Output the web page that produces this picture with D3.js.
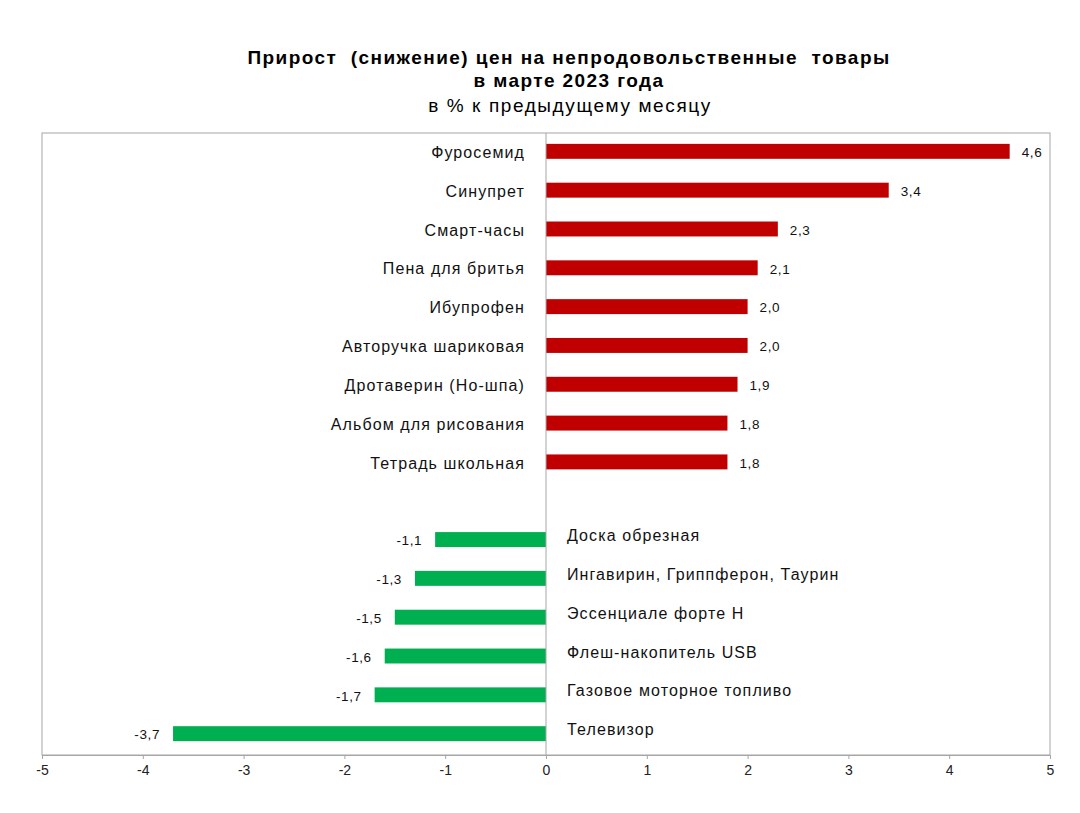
<!DOCTYPE html>
<html>
<head>
<meta charset="utf-8">
<script src="https://cdn.jsdelivr.net/npm/d3@7"></script>
<style>
  body { margin: 0; background: #fff; }
  svg { font-family: "Liberation Sans", Arial, sans-serif; }
  text { white-space: pre; }
</style>
</head>
<body>
<svg id="chart" width="1080" height="813"></svg>
<script>
// categories top to bottom; the empty string is the blank gap row
const categories = [
  'Фуросемид', 'Синупрет', 'Смарт-часы', 'Пена для бритья', 'Ибупрофен',
  'Авторучка шариковая', 'Дротаверин (Но-шпа)', 'Альбом для рисования', 'Тетрадь школьная',
  '',
  'Доска обрезная', 'Ингавирин, Гриппферон, Таурин', 'Эссенциале форте Н',
  'Флеш-накопитель USB', 'Газовое моторное топливо', 'Телевизор'
];
const values = [4.6, 3.4, 2.3, 2.1, 2.0, 2.0, 1.9, 1.8, 1.8, null,
  -1.1, -1.3, -1.5, -1.6, -1.7, -3.7];
const ticks = [-5, -4, -3, -2, -1, 0, 1, 2, 3, 4, 5];

const svg = d3.select('#chart');
const plotL = 42, plotR = 1050, plotT = 133, plotB = 755;

const x = d3.scaleLinear().domain([-5, 5]).range([plotL, plotR]);
const y = d3.scaleBand().domain(d3.range(categories.length)).range([plotT, plotB - 3])
  .paddingInner(0.615).paddingOuter(0.28);

// comma decimal, plain hyphen for minus
const fmt = v => d3.format('.1f')(v).replace('.', ',').replace('\u2212', '-');

// title
const title = svg.append('g').attr('text-anchor', 'middle').attr('fill', '#000');
title.append('text').attr('x', 569).attr('y', 64).attr('font-size', 19).attr('font-weight', 'bold')
  .attr('letter-spacing', 1.45)
  .text('Прирост  (снижение) цен на непродовольственные  товары');
title.append('text').attr('x', 569).attr('y', 87).attr('font-size', 19).attr('font-weight', 'bold')
  .attr('letter-spacing', 1.4)
  .text('в марте 2023 года');
title.append('text').attr('x', 570).attr('y', 112).attr('font-size', 19)
  .attr('letter-spacing', 1.6)
  .text('в % к предыдущему месяцу');

// plot border
svg.append('rect').attr('x', plotL).attr('y', plotT).attr('width', plotR - plotL).attr('height', plotB - plotT)
  .attr('fill', 'none').attr('stroke', '#a6a6a6').attr('stroke-width', 1);

const rows = categories.map((c, i) => ({ c, v: values[i], i })).filter(d => d.v !== null);

svg.append('g').selectAll('rect').data(rows).join('rect')
  .attr('x', d => x(Math.min(0, d.v)))
  .attr('y', d => y(d.i))
  .attr('width', d => Math.abs(x(d.v) - x(0)))
  .attr('height', y.bandwidth())
  .attr('fill', d => d.v > 0 ? '#c00000' : '#00b050');

// zero line
svg.append('line').attr('x1', x(0)).attr('x2', x(0)).attr('y1', plotT).attr('y2', plotB)
  .attr('stroke', '#a6a6a6').attr('stroke-width', 1);

// x axis
const axis = svg.append('g').attr('transform', `translate(0,${plotB})`)
  .call(d3.axisBottom(x).tickValues(ticks).tickSize(4).tickPadding(6).tickFormat(d => String(d)));
axis.select('.domain').attr('stroke', '#a6a6a6');
axis.selectAll('.tick line').attr('stroke', '#a6a6a6');
axis.selectAll('.tick text').attr('font-size', 14).attr('fill', '#222').attr('font-family', '"Liberation Sans", Arial, sans-serif');

// category labels
svg.append('g').selectAll('text').data(rows).join('text')
  .attr('x', d => d.v > 0 ? x(0) - 21 : x(0) + 21)
  .attr('y', d => y(d.i) + y.bandwidth() / 2 + (d.v > 0 ? 1 : -4))
  .attr('dy', '0.35em')
  .attr('text-anchor', d => d.v > 0 ? 'end' : 'start')
  .attr('font-size', 16).attr('letter-spacing', 1.1).attr('fill', '#111')
  .text(d => d.c);

// value labels
svg.append('g').selectAll('text').data(rows).join('text')
  .attr('x', d => d.v > 0 ? x(d.v) + 12 : x(d.v) - 13)
  .attr('y', d => y(d.i) + y.bandwidth() / 2 + 1)
  .attr('dy', '0.35em')
  .attr('text-anchor', d => d.v > 0 ? 'start' : 'end')
  .attr('font-size', 13.5).attr('letter-spacing', 0.6).attr('fill', '#111')
  .text(d => fmt(d.v));
</script>
</body>
</html>
